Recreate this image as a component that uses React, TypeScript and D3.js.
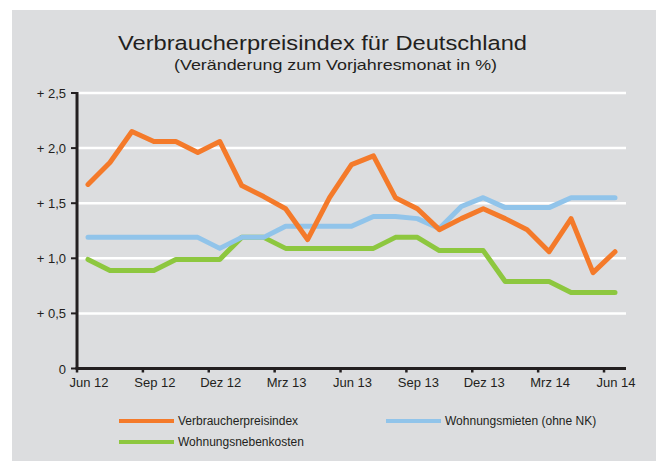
import * as d3 from "d3";
import { useEffect, useRef } from "react";

const months = [
  "Jun 12", "Jul 12", "Aug 12", "Sep 12", "Okt 12", "Nov 12", "Dez 12",
  "Jan 13", "Feb 13", "Mrz 13", "Apr 13", "Mai 13", "Jun 13", "Jul 13",
  "Aug 13", "Sep 13", "Okt 13", "Nov 13", "Dez 13", "Jan 14", "Feb 14",
  "Mrz 14", "Apr 14", "Mai 14", "Jun 14",
];

const vpi = [1.67, 1.87, 2.15, 2.06, 2.06, 1.96, 2.06, 1.66, 1.56, 1.45, 1.17, 1.55, 1.85,
  1.93, 1.55, 1.45, 1.26, 1.36, 1.45, 1.36, 1.26, 1.06, 1.36, 0.87, 1.06];
const mieten = [1.19, 1.19, 1.19, 1.19, 1.19, 1.19, 1.09, 1.19, 1.19, 1.29, 1.29, 1.29, 1.29,
  1.38, 1.38, 1.36, 1.27, 1.47, 1.55, 1.46, 1.46, 1.46, 1.55, 1.55, 1.55];
const nebenkosten = [0.99, 0.89, 0.89, 0.89, 0.99, 0.99, 0.99, 1.19, 1.19, 1.09, 1.09, 1.09, 1.09,
  1.09, 1.19, 1.19, 1.07, 1.07, 1.07, 0.79, 0.79, 0.79, 0.69, 0.69, 0.69];

const yTicks = [0, 0.5, 1, 1.5, 2, 2.5];
const seriesNames = ["Verbraucherpreisindex", "Wohnungsmieten (ohne NK)", "Wohnungsnebenkosten"];
const seriesColors = ["#f47a2a", "#91c4ea", "#8dc73f"];

export default function App() {
  const ref = useRef<SVGSVGElement>(null);

  useEffect(() => {
    const svg = d3.select(ref.current);
    svg.selectAll("*").remove();
    const font = "'Liberation Sans', Arial, sans-serif";

    svg.append("rect")
      .attr("x", 12).attr("y", 10)
      .attr("width", 644).attr("height", 451)
      .attr("fill", "#dcdddf");

    // titles
    svg.append("text")
      .attr("x", 118).attr("y", 49.5)
      .attr("textLength", 409).attr("lengthAdjust", "spacingAndGlyphs")
      .style("font-family", font).style("font-size", "20.5px")
      .attr("fill", "#231f20")
      .text("Verbraucherpreisindex für Deutschland");
    svg.append("text")
      .attr("x", 174).attr("y", 69.5)
      .attr("textLength", 323).attr("lengthAdjust", "spacingAndGlyphs")
      .style("font-family", font).style("font-size", "15px")
      .attr("fill", "#231f20")
      .text("(Veränderung zum Vorjahresmonat in %)");

    const x = d3.scaleLinear().domain([0, months.length - 1]).range([88, 615]);
    const y = d3.scaleLinear().domain([0, 2.5]).range([368.5, 93]);
    const left = x(-0.5), right = 626;

    // gridlines
    svg.append("g").selectAll("line")
      .data(yTicks.filter((d) => d > 0))
      .enter().append("line")
      .attr("x1", left).attr("x2", right)
      .attr("y1", (d) => y(d)).attr("y2", (d) => y(d))
      .attr("stroke", "#ffffff").attr("stroke-width", 2.5);

    // y axis
    const yg = svg.append("g");
    yg.append("line")
      .attr("x1", left).attr("x2", left)
      .attr("y1", y(2.5) - 1).attr("y2", y(0))
      .attr("stroke", "#231f20").attr("stroke-width", 3);
    yg.selectAll("line.tick").data(yTicks).enter().append("line")
      .attr("class", "tick")
      .attr("x1", left - 6).attr("x2", left)
      .attr("y1", (d) => y(d)).attr("y2", (d) => y(d))
      .attr("stroke", "#231f20").attr("stroke-width", 2);
    yg.selectAll("text").data(yTicks).enter().append("text")
      .attr("x", left - 11).attr("y", (d) => y(d) + 5)
      .attr("text-anchor", "end")
      .style("font-family", font).style("font-size", "13px")
      .attr("fill", "#231f20")
      .text((d) => (d === 0 ? "0" : "+ " + d3.format(".1f")(d).replace(".", ",")));

    // lines, orange on top
    const line = d3.line<number>()
      .x((d, i) => x(i))
      .y((d) => y(d));
    const all = [vpi, mieten, nebenkosten];
    [2, 1, 0].forEach((k) => {
      svg.append("path")
        .datum(all[k])
        .attr("d", line)
        .attr("fill", "none")
        .attr("stroke", seriesColors[k])
        .attr("stroke-width", 5)
        .attr("stroke-linejoin", "round")
        .attr("stroke-linecap", "round");
    });

    // x axis
    const xg = svg.append("g");
    xg.append("line")
      .attr("x1", left - 1.5).attr("x2", right)
      .attr("y1", y(0)).attr("y2", y(0))
      .attr("stroke", "#231f20").attr("stroke-width", 3);
    const labelIdx = d3.range(0, months.length, 3);
    xg.selectAll("line.tick").data(labelIdx).enter().append("line")
      .attr("class", "tick")
      .attr("x1", (i) => x(i - 0.5)).attr("x2", (i) => x(i - 0.5))
      .attr("y1", y(0)).attr("y2", y(0) + 4)
      .attr("stroke", "#231f20").attr("stroke-width", 2.5);
    xg.selectAll("text").data(labelIdx).enter().append("text")
      .attr("x", (i) => x(i) + 1).attr("y", y(0) + 18)
      .attr("text-anchor", "middle")
      .style("font-family", font).style("font-size", "13px")
      .attr("fill", "#231f20")
      .text((i) => months[i]);

    // legend
    const legendPos = [[119, 421], [386, 421], [119, 442]];
    const lg = svg.append("g");
    seriesNames.forEach((name, k) => {
      const [lx, ly] = legendPos[k];
      lg.append("line")
        .attr("x1", lx).attr("x2", lx + 55)
        .attr("y1", ly).attr("y2", ly)
        .attr("stroke", seriesColors[k]).attr("stroke-width", 4);
      lg.append("text")
        .attr("x", lx + 59).attr("y", ly + 4)
        .style("font-family", font).style("font-size", "12px")
        .attr("fill", "#231f20")
        .text(name);
    });
  }, []);

  return (
    <svg ref={ref} width={656} height={461}
      style={{ position: "absolute", left: 0, top: 0, background: "#ffffff" }} />
  );
}
